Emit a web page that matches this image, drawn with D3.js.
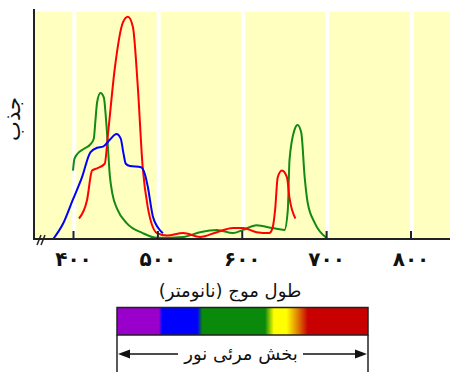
<!DOCTYPE html>
<html>
<head>
<meta charset="utf-8">
<script src="https://d3js.org/d3.v7.min.js"></script>
<style>
  body { margin: 0; background: #fff; }
  text { font-family: "DejaVu Sans", sans-serif; fill: #111; }
</style>
</head>
<body>
<div id="chart"></div>
<script>
// absorbance spectra (wavelength nm -> relative absorbance, 0..100)
var blueWl  = [376, 388, 399, 410, 420, 428, 435, 443, 451, 456, 459, 462, 467, 480, 485, 488, 494, 500, 506];
var blueAbs = [0,   7,   17,  27,  38,  40,  40.5, 43.5, 46, 44, 38,  33,  32,  31.5, 28, 23, 10,  5,   2.5];

var redWl  = [406.5, 416, 422, 428, 437, 441, 449, 458.6, 464.5, 470.4, 476, 482, 488, 499, 511, 530, 550, 570, 589, 601, 617, 632, 636, 639, 642, 647, 653, 656, 663];
var redAbs = [9,     17,  30,  31,  33,  46.5, 75, 95,   97.5,  93,    68,  31.5, 14, 2.6, 1.5, 2.6, 0.9, 3,  4.8, 4.8, 3,   2.6, 5,   13,  27,  30,  27,  18,  9];

var greenWl  = [399.4, 401, 405, 412, 420, 424, 426, 428, 432, 436, 438, 440, 443, 446, 452, 463, 482, 499, 530, 550, 570, 589, 601, 617, 636, 650, 654, 656, 662, 665.6, 670, 674, 677.5, 686, 700];
var greenAbs = [30,    35,  37.5, 39.5, 41.5, 44, 52,  60,  64,  62,  55,  45,  28,  20,  13,  7,   2.6, 0.5, 0.9, 3,   4,   2.6, 4,   6,   4.8, 4,   12.7, 34.6, 48, 50,   46.5, 27, 16,   7,   0.5];

var tickValues = [400, 500, 600, 700, 800];
var tickLabels = ["۴۰۰", "۵۰۰", "۶۰۰", "۷۰۰", "۸۰۰"];

var xTitle = "طول موج (نانومتر)";
var yTitle = "جذب";
var bandTitle = "بخش مرئی نور";

var spectrumStops = [
  [0.00, "#9900cc"], [0.167, "#9900cc"], [0.18, "#0000ff"], [0.32, "#0000ff"],
  [0.34, "#0a8a0a"], [0.59, "#0a8a0a"], [0.625, "#ffff00"], [0.675, "#ffff00"],
  [0.72, "#e08000"], [0.76, "#c80000"], [1.00, "#c80000"]
];

var W = 450, H = 372;
var svg = d3.select("#chart").append("svg").attr("width", W).attr("height", H);

var x = d3.scaleLinear().domain([400, 800]).range([73.5, 411]);
var y = d3.scaleLinear().domain([0, 100]).range([239, 11]);

var plotLeft = 34, plotTop = 11.7, plotRight = W, plotBottom = 239;

// pale yellow background with white separators at the ticks
svg.append("rect")
  .attr("x", plotLeft).attr("y", plotTop)
  .attr("width", plotRight - plotLeft).attr("height", plotBottom - plotTop)
  .attr("fill", "#ffffc0");

svg.selectAll("line.sep").data(tickValues).enter().append("line")
  .attr("class", "sep")
  .attr("x1", function (d) { return x(d) + 0.8; })
  .attr("x2", function (d) { return x(d) + 0.8; })
  .attr("y1", plotTop).attr("y2", plotBottom)
  .attr("stroke", "#fff").attr("stroke-width", 4);

// curves
var line = d3.line()
  .x(function (d) { return x(d[0]); })
  .y(function (d) { return y(d[1]); })
  .curve(d3.curveMonotoneX);

function series(wl, ab) { return wl.map(function (w, i) { return [w, ab[i]]; }); }

var curves = [
  { pts: series(greenWl, greenAbs), color: "#138a13" },
  { pts: series(redWl, redAbs), color: "#ff0000" },
  { pts: series(blueWl, blueAbs), color: "#0000ff" }
];

svg.selectAll("path.curve").data(curves).enter().append("path")
  .attr("class", "curve")
  .attr("d", function (d) { return line(d.pts); })
  .attr("fill", "none")
  .attr("stroke", function (d) { return d.color; })
  .attr("stroke-width", 2);

// axes
svg.append("line")
  .attr("x1", plotLeft).attr("x2", plotLeft).attr("y1", 9).attr("y2", plotBottom + 1)
  .attr("stroke", "#222").attr("stroke-width", 2);
svg.append("line")
  .attr("x1", plotLeft - 1).attr("x2", W).attr("y1", plotBottom).attr("y2", plotBottom)
  .attr("stroke", "#222").attr("stroke-width", 2);

svg.selectAll("line.tick").data(tickValues).enter().append("line")
  .attr("class", "tick")
  .attr("x1", function (d) { return x(d); })
  .attr("x2", function (d) { return x(d); })
  .attr("y1", plotBottom - 8).attr("y2", plotBottom)
  .attr("stroke", "#222").attr("stroke-width", 2);

// axis break
[0, 4].forEach(function (o) {
  svg.append("line")
    .attr("x1", 37 + o).attr("y1", 245).attr("x2", 41 + o).attr("y2", 235)
    .attr("stroke", "#222").attr("stroke-width", 1.5);
});

svg.selectAll("text.tl").data(tickValues).enter().append("text")
  .attr("class", "tl")
  .attr("x", function (d) { return x(d); })
  .attr("y", 266)
  .attr("text-anchor", "middle")
  .style("font-size", "20px")
  .style("font-weight", "bold")
  .style("letter-spacing", "6px")
  .text(function (d, i) { return tickLabels[i]; });

svg.append("text")
  .attr("x", 230).attr("y", 297)
  .attr("text-anchor", "middle")
  .attr("direction", "rtl")
  .style("font-size", "18px")
  .text(xTitle);

svg.append("text")
  .attr("transform", "translate(20,119) rotate(-90)")
  .attr("text-anchor", "middle")
  .style("font-size", "21px")
  .text(yTitle);

// visible spectrum bar
var grad = svg.append("defs").append("linearGradient").attr("id", "spec");
grad.selectAll("stop").data(spectrumStops).enter().append("stop")
  .attr("offset", function (d) { return d[0]; })
  .attr("stop-color", function (d) { return d[1]; });

var bx0 = 117, bx1 = 368, by0 = 307.5, by1 = 335;
svg.append("rect")
  .attr("x", bx0).attr("y", by0).attr("width", bx1 - bx0).attr("height", by1 - by0)
  .attr("fill", "url(#spec)").attr("stroke", "#222").attr("stroke-width", 1.5);

[bx0, bx1].forEach(function (bx) {
  svg.append("line").attr("x1", bx).attr("x2", bx).attr("y1", by1).attr("y2", H)
    .attr("stroke", "#222").attr("stroke-width", 1.5);
});

var ay = 354;
svg.append("line").attr("x1", bx0 + 8).attr("x2", 178).attr("y1", ay).attr("y2", ay)
  .attr("stroke", "#111").attr("stroke-width", 1.5);
svg.append("line").attr("x1", 303).attr("x2", bx1 - 8).attr("y1", ay).attr("y2", ay)
  .attr("stroke", "#111").attr("stroke-width", 1.5);
svg.append("path")
  .attr("d", "M" + (bx0 + 1) + "," + ay + "l12,-4.5l0,9z")
  .attr("fill", "#111");
svg.append("path")
  .attr("d", "M" + (bx1 - 1) + "," + ay + "l-12,-4.5l0,9z")
  .attr("fill", "#111");

svg.append("text")
  .attr("x", 241).attr("y", 360)
  .attr("text-anchor", "middle")
  .attr("direction", "rtl")
  .style("font-size", "18px")
  .text(bandTitle);
</script>
</body>
</html>
